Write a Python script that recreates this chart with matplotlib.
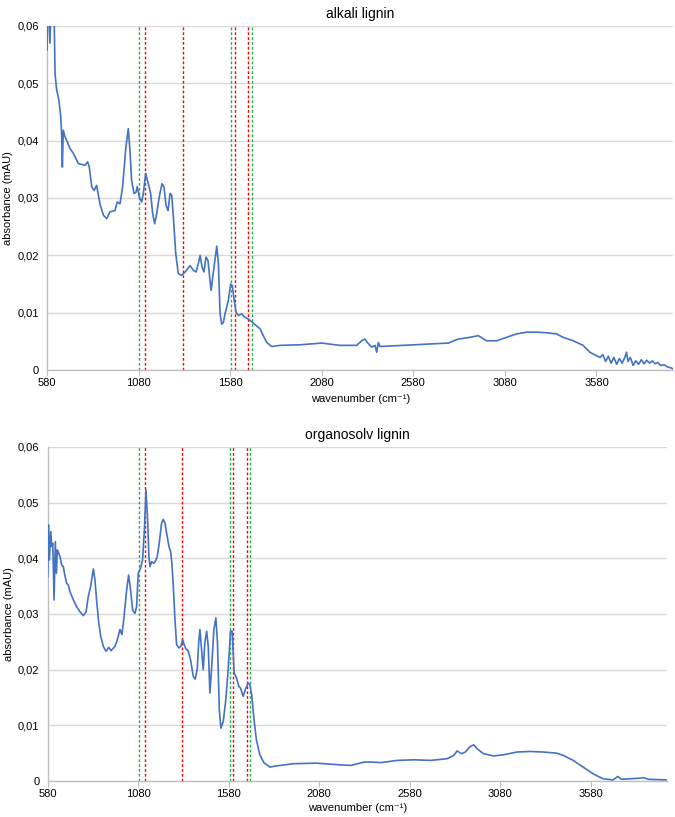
import matplotlib
matplotlib.use("Agg")
import matplotlib.pyplot as plt
from matplotlib.ticker import FuncFormatter

plt.rcParams['font.family'] = ['Liberation Sans', 'DejaVu Sans']

# ---------------- data ----------------
alkali_wn = [580, 585, 592, 596, 602, 610, 615, 620, 624, 633, 642, 647, 655, 660, 664, 669,
             678, 687, 706, 724, 751, 788, 802, 811, 824, 837, 851, 869, 888, 906, 924, 951,
             964, 979, 993, 1011, 1024, 1033, 1042, 1055, 1066, 1073, 1084, 1097, 1106, 1119,
             1133, 1146, 1157, 1168, 1179, 1193, 1208, 1219, 1230, 1241, 1252, 1261, 1270,
             1283, 1297, 1315, 1334, 1361, 1379, 1394, 1406, 1416, 1427, 1437, 1448, 1459,
             1470, 1476, 1485, 1497, 1507, 1516, 1525, 1534, 1543, 1552, 1570, 1583, 1592,
             1601, 1612, 1625, 1643, 1661, 1679, 1703, 1724, 1743, 1761, 1780, 1807, 1852,
             1962, 2080, 2180, 2271, 2298, 2316, 2329, 2353, 2371, 2380, 2389, 2398, 2580,
             2771, 2825, 2889, 2935, 2980, 3035, 3089, 3144, 3198, 3253, 3307, 3362, 3398,
             3453, 3507, 3544, 3580, 3600, 3615, 3630, 3645, 3660, 3675, 3690, 3705, 3720,
             3735, 3744, 3752, 3765, 3780, 3795, 3810, 3825, 3840, 3855, 3870, 3885, 3900,
             3915, 3930, 3950, 3970, 3985, 4000]
alkali_abs = [0.0558, 0.0620, 0.0630, 0.0570, 0.0630, 0.0620, 0.0605, 0.0600, 0.0517, 0.0488,
              0.0476, 0.0465, 0.0442, 0.0412, 0.0354, 0.0418, 0.0407, 0.0401, 0.0386, 0.0378,
              0.0360, 0.0357, 0.0363, 0.0354, 0.0320, 0.0313, 0.0322, 0.0290, 0.0270, 0.0264,
              0.0276, 0.0278, 0.0293, 0.0290, 0.0320, 0.0389, 0.0421, 0.0383, 0.0331, 0.0308,
              0.0310, 0.0320, 0.0302, 0.0293, 0.0308, 0.0343, 0.0325, 0.0308, 0.0273, 0.0255,
              0.0273, 0.0302, 0.0325, 0.0319, 0.0287, 0.0278, 0.0308, 0.0305, 0.0267, 0.0203,
              0.0168, 0.0165, 0.0171, 0.0182, 0.0174, 0.0171, 0.0185, 0.0200, 0.0179, 0.0171,
              0.0197, 0.0191, 0.0156, 0.0139, 0.0162, 0.0191, 0.0216, 0.0185, 0.0098, 0.0080,
              0.0083, 0.0098, 0.0121, 0.0150, 0.0147, 0.0124, 0.0101, 0.0095, 0.0098, 0.0092,
              0.0089, 0.0083, 0.0077, 0.0072, 0.0060, 0.0048, 0.0041, 0.0043, 0.0044, 0.0047,
              0.0043, 0.0043, 0.0051, 0.0054, 0.0048, 0.0040, 0.0043, 0.0031, 0.0048, 0.0041,
              0.0044, 0.0047, 0.0054, 0.0057, 0.0060, 0.0051, 0.0051, 0.0057, 0.0063, 0.0066,
              0.0066, 0.0065, 0.0063, 0.0057, 0.0051, 0.0043, 0.0031, 0.0025, 0.0022, 0.0027,
              0.0015, 0.0024, 0.0012, 0.0022, 0.0010, 0.0020, 0.0012, 0.0022, 0.0031, 0.0015,
              0.0022, 0.0008, 0.0016, 0.0010, 0.0018, 0.0011, 0.0017, 0.0012, 0.0016, 0.0011,
              0.0013, 0.0008, 0.0009, 0.0005, 0.0004, 0.0002]

organo_wn = [580, 584, 589, 597, 602, 608, 615, 622, 628, 633, 641, 648, 657, 666, 676, 685,
             694, 703, 722, 740, 758, 777, 792, 804, 817, 832, 841, 850, 862, 873, 887, 902,
             917, 930, 952, 965, 979, 990, 1001, 1016, 1027, 1038, 1049, 1062, 1071, 1080,
             1093, 1104, 1114, 1123, 1132, 1139, 1145, 1154, 1167, 1178, 1185, 1196, 1209,
             1218, 1228, 1237, 1250, 1259, 1266, 1274, 1283, 1292, 1305, 1316, 1325, 1334,
             1344, 1356, 1369, 1384, 1395, 1406, 1414, 1421, 1430, 1439, 1448, 1458, 1467,
             1476, 1485, 1498, 1509, 1518, 1528, 1537, 1550, 1564, 1577, 1590, 1599, 1610,
             1623, 1636, 1645, 1660, 1675, 1688, 1697, 1708, 1720, 1733, 1752, 1774, 1807,
             1844, 1936, 2065, 2194, 2256, 2329, 2366, 2421, 2512, 2604, 2695, 2787, 2824,
             2842, 2866, 2888, 2911, 2933, 2952, 2988, 3043, 3098, 3172, 3245, 3318, 3391,
             3428, 3483, 3538, 3593, 3648, 3703, 3730, 3750, 3849, 3870, 3900, 3996]
organo_abs = [0.0367, 0.0460, 0.0397, 0.0448, 0.0421, 0.0427, 0.0325, 0.0430, 0.0373, 0.0415,
              0.0409, 0.0403, 0.0388, 0.0385, 0.0367, 0.0355, 0.0352, 0.0340, 0.0325, 0.0313,
              0.0304, 0.0297, 0.0304, 0.0331, 0.0349, 0.0381, 0.0361, 0.0325, 0.0284, 0.0260,
              0.0242, 0.0233, 0.0240, 0.0234, 0.0242, 0.0254, 0.0272, 0.0263, 0.0293, 0.0343,
              0.0370, 0.0343, 0.0307, 0.0301, 0.0313, 0.0373, 0.0382, 0.0397, 0.0451, 0.0523,
              0.0469, 0.0403, 0.0385, 0.0394, 0.0391, 0.0397, 0.0403, 0.0427, 0.0463, 0.0470,
              0.0463, 0.0445, 0.0421, 0.0412, 0.0391, 0.0349, 0.0290, 0.0245, 0.0239, 0.0242,
              0.0254, 0.0245, 0.0237, 0.0234, 0.0218, 0.0188, 0.0183, 0.0200, 0.0248, 0.0272,
              0.0236, 0.0200, 0.0248, 0.0269, 0.0242, 0.0158, 0.0200, 0.0272, 0.0293, 0.0248,
              0.0128, 0.0095, 0.0107, 0.0146, 0.0200, 0.0269, 0.0269, 0.0194, 0.0185, 0.0170,
              0.0167, 0.0152, 0.0167, 0.0176, 0.0173, 0.0152, 0.0110, 0.0074, 0.0047, 0.0033,
              0.0025, 0.0027, 0.0031, 0.0032, 0.0029, 0.0028, 0.0034, 0.0034, 0.0033, 0.0037,
              0.0038, 0.0037, 0.0040, 0.0046, 0.0054, 0.0049, 0.0052, 0.0061, 0.0065, 0.0058,
              0.0049, 0.0045, 0.0047, 0.0052, 0.0053, 0.0052, 0.0050, 0.0046, 0.0037, 0.0025,
              0.0013, 0.0004, 0.0002, 0.0008, 0.0003, 0.0005, 0.0006, 0.0003, 0.0002]

green_lines = [1082, 1585, 1700]
red_lines = [1117, 1320, 1605, 1680]

x_ticks = [580, 1080, 1580, 2080, 2580, 3080, 3580]
y_ticks = [0, 0.01, 0.02, 0.03, 0.04, 0.05, 0.06]
titles = ["alkali lignin", "organosolv lignin"]

# ---------------- plotting ----------------
fig = plt.figure(figsize=(6.75, 8.17), dpi=100)
ax1 = fig.add_axes([0.0696, 0.5471, 0.928, 0.4211])
ax2 = fig.add_axes([0.0707, 0.0441, 0.917, 0.4088])

fmt = FuncFormatter(lambda v, p: "0" if abs(v) < 1e-9 else ("%.2f" % v).replace(".", ","))

for ax, wn, ab, title, lp in [(ax1, alkali_wn, alkali_abs, titles[0], 4),
                              (ax2, organo_wn, organo_abs, titles[1], 3)]:
    ax.set_xlim(580, 4000)
    ax.set_ylim(0, 0.06)
    ax.set_yticks(y_ticks)
    ax.set_xticks(x_ticks)
    ax.yaxis.set_major_formatter(fmt)
    ax.grid(axis='y', color='#d9d9d9', lw=1.0, zorder=0)
    ax.set_axisbelow(True)
    for s in ['top', 'right']:
        ax.spines[s].set_visible(False)
    for s in ['left', 'bottom']:
        ax.spines[s].set_color('#bfbfbf')
        ax.spines[s].set_linewidth(1.0)
    ax.tick_params(axis='y', length=0, labelsize=8, pad=6, colors='black')
    ax.tick_params(axis='x', length=4, color='#bfbfbf', labelsize=8, pad=2)
    for g in green_lines:
        ax.axvline(g, color='#22b14c', lw=1.0, ls=(0, (2, 1.5)), zorder=2)
    for r in red_lines:
        ax.axvline(r, color='#ff0000', lw=1.0, ls=(0, (2, 1.5)), zorder=2)
    ax.plot(wn, ab, color='#4472c4', lw=1.2, zorder=3, clip_on=True)
    ax.set_title(title, fontsize=10, pad=6)
    ax.set_xlabel("wavenumber (cm\u207b\u00b9)", fontsize=8, labelpad=lp)
    ax.set_ylabel("absorbance (mAU)", fontsize=8, labelpad=3)

fig.savefig("out.png", dpi=100)
